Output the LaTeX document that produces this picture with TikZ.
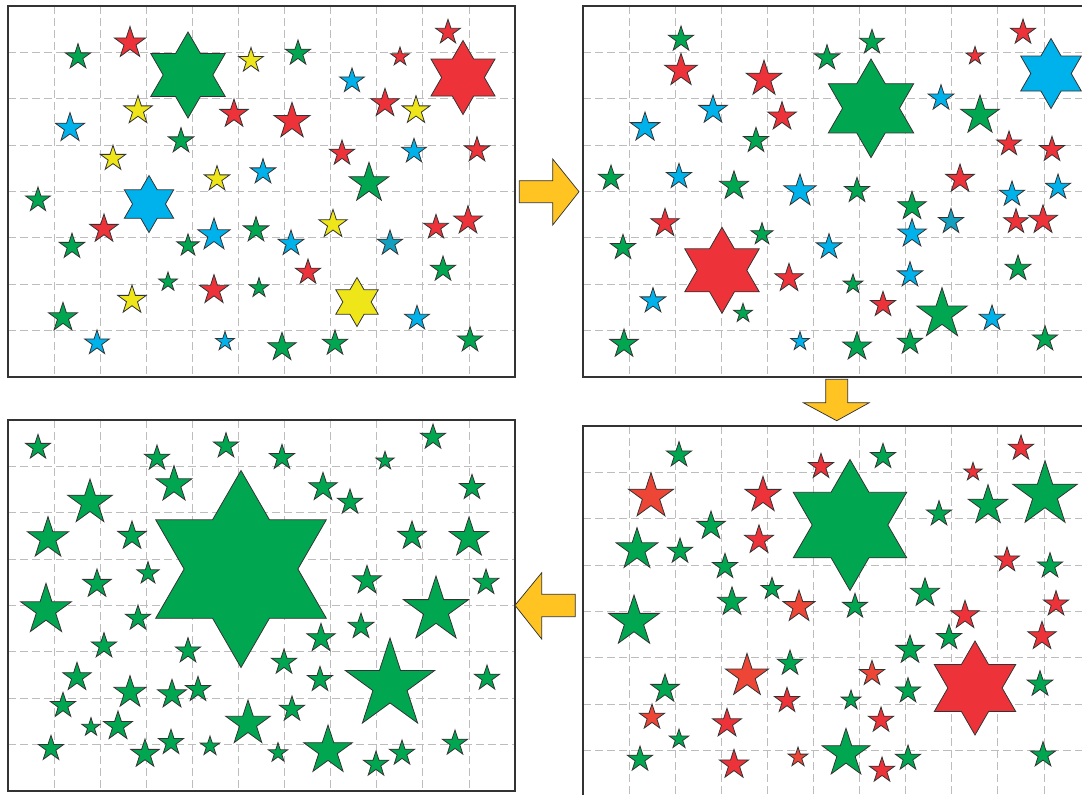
\documentclass[tikz,border=0pt]{standalone}
\usetikzlibrary{calc}
\definecolor{sg}{HTML}{00A650}
\definecolor{sr}{HTML}{EE3239}
\definecolor{so}{HTML}{EE4636}
\definecolor{sb}{HTML}{00B2EC}
\definecolor{sy}{HTML}{EEE618}
\definecolor{st}{HTML}{139FC0}
\definecolor{ay}{HTML}{FFC421}
\definecolor{lineg}{HTML}{333333}
\definecolor{gridg}{HTML}{BDBDBD}
\tikzset{
  stl/.style={draw=lineg,line width=0.6pt,line join=miter},
  gridline/.style={draw=gridg,line width=0.75pt,dash pattern=on 6pt off 3pt},
  frameline/.style={draw=lineg,line width=1.4pt},
  arrowshape/.style={fill=ay,draw=lineg,line width=0.55pt}
}
\newcommand{\fst}[4]{\draw[stl,fill=#1,shift={(#2,#3)}] (-90:#4) -- (-54:{0.382*#4}) -- (-18:#4) -- (18:{0.382*#4}) -- (54:#4) -- (90:{0.382*#4}) -- (126:#4) -- (162:{0.382*#4}) -- (198:#4) -- (234:{0.382*#4}) -- cycle;}
\newcommand{\hst}[4]{\draw[stl,fill=#1,shift={(#2,#3)}] (-90:#4) -- (-60:{0.57735*#4}) -- (-30:#4) -- (0:{0.57735*#4}) -- (30:#4) -- (60:{0.57735*#4}) -- (90:#4) -- (120:{0.57735*#4}) -- (150:#4) -- (180:{0.57735*#4}) -- (210:#4) -- (240:{0.57735*#4}) -- cycle;}
\newcommand{\pgrid}[2]{%
  \foreach \k in {1,...,10} {\draw[gridline] ({#1+46.1*\k},#2) -- ({#1+46.1*\k},{#2+371});}
  \foreach \k in {1,...,7} {\draw[gridline] (#1,{#2+46.375*\k}) -- ({#1+507},{#2+46.375*\k});}
}
\newcommand{\pframe}[2]{\draw[frameline] (#1,#2) rectangle ({#1+507},{#2+371});}
\begin{document}
\begin{tikzpicture}[x=0.75pt,y=-0.75pt]
\useasboundingbox (0,0) rectangle (1082,794);
\clip (0,0) rectangle (1082,794);
\fill[white] (0,0) rectangle (1082,794);
% ---------- panel 1 ----------
\pgrid{8}{6}
\fst{sg}{78}{57}{13.3}
\fst{sr}{130}{43}{16.5}
\hst{sg}{188}{75}{43}
\fst{sy}{251}{60.5}{13}
\fst{sy}{138}{110.5}{15}
\fst{sr}{234}{114}{15}
\fst{sb}{70}{128}{15.4}
\fst{sg}{181}{141}{13.3}
\fst{sy}{113}{158.5}{13.3}
\fst{sy}{217}{179}{13.3}
\fst{sb}{263}{172}{13.3}
\hst{sb}{149}{204}{28.5}
\fst{sg}{38}{200}{13}
\fst{sr}{104}{229}{15}
\fst{sg}{72}{246.5}{13.3}
\fst{sg}{188}{245.5}{11.7}
\fst{sb}{214}{235}{17}
\fst{sg}{256}{230}{13.3}
\fst{sg}{168}{282}{10}
\fst{sr}{214}{290}{15.4}
\fst{sg}{259}{288}{10.3}
\fst{sy}{132}{300}{15}
\fst{sg}{63}{317.5}{15.2}
\fst{sb}{97}{343}{13}
\fst{sb}{225}{341.5}{10}
\fst{sg}{298}{53.3}{13.3}
\fst{sr}{448}{32.3}{13}
\fst{sr}{400}{56.8}{9.8}
\hst{sr}{463}{77.5}{37}
\fst{sb}{352}{81}{13}
\fst{sr}{385}{103.3}{15}
\fst{sy}{416}{110.4}{14.7}
\fst{sr}{292}{121.3}{19}
\fst{sr}{342}{153.3}{13.3}
\fst{sb}{414}{151.3}{13}
\fst{sr}{477}{150}{13.3}
\fst{sg}{369}{183.2}{20.9}
\fst{sy}{333}{224.3}{15}
\fst{sb}{291}{243.5}{13.5}
\fst{st}{390}{243.3}{13.3}
\fst{sr}{436}{227.3}{13}
\fst{sr}{468}{220.7}{15}
\fst{sr}{308}{272.3}{13.3}
\fst{sg}{443}{269.3}{13.3}
\hst{sy}{357}{302}{24.5}
\fst{sb}{417}{318.3}{13}
\fst{sg}{282}{347.3}{15}
\fst{sg}{335}{343.3}{13.3}
\fst{sg}{470}{340}{13.3}
\pframe{8}{6}
% ---------- panel 2 ----------
\pgrid{583}{6}
\fst{sg}{681}{39.3}{13.3}
\fst{sr}{681}{70.5}{17.2}
\fst{sr}{764}{79}{18.8}
\fst{sb}{713}{110}{15}
\fst{sr}{782}{116.7}{15}
\fst{sb}{645}{127.4}{15.4}
\fst{sg}{756}{140.6}{13.3}
\fst{sg}{611}{178.3}{13.3}
\fst{sb}{679}{176.6}{13.3}
\fst{sg}{734}{186}{15.2}
\fst{sb}{800}{191}{17}
\fst{sr}{665}{223.3}{15}
\fst{sg}{762}{234.3}{11.6}
\fst{sg}{623}{247.6}{13.3}
\hst{sr}{722}{270.3}{43}
\fst{sr}{789}{278.3}{15}
\fst{sb}{653}{301}{13.3}
\fst{sg}{743}{313.3}{10}
\fst{sg}{624}{344}{15}
\fst{sb}{800}{341.5}{9.8}
\fst{sb}{829}{247}{13.3}
\fst{sg}{827}{58}{13.3}
\fst{sg}{872}{42.3}{13}
\hst{sg}{871}{108.3}{49.3}
\fst{sr}{975}{56}{9.5}
\fst{sr}{1023}{32.3}{13.3}
\hst{sb}{1051}{73.5}{35}
\fst{sb}{941}{98.2}{13.5}
\fst{sg}{980}{115.5}{20.5}
\fst{sr}{1009}{144}{13}
\fst{sr}{1052}{149.6}{13.3}
\fst{sr}{960}{179}{15}
\fst{sg}{857}{190.6}{13.3}
\fst{sb}{1012}{194.3}{13.3}
\fst{sb}{1058}{187.3}{13.3}
\fst{sg}{912}{206.3}{15}
\fst{sb}{912}{233.7}{15}
\fst{st}{951}{221.6}{13.3}
\fst{sr}{1016}{221.7}{13}
\fst{sr}{1043}{220}{15.2}
\fst{sg}{1018}{268.5}{13.5}
\fst{sb}{910}{275}{13.3}
\fst{sg}{853}{284.3}{10.3}
\fst{sr}{883}{304.6}{13.3}
\fst{sg}{942}{314.2}{26.5}
\fst{sb}{992}{318.5}{13.5}
\fst{sg}{857}{346.7}{15}
\fst{sg}{910}{342.3}{13.3}
\fst{sg}{1045}{339}{13.3}
\pframe{583}{6}
% ---------- panel 3 ----------
\pgrid{583}{426}
\fst{sg}{679}{455}{13.3}
\fst{so}{651}{496.5}{23.8}
\fst{sr}{763}{495.2}{18.9}
\fst{sr}{821}{466.6}{13.3}
\fst{sg}{711}{526}{15}
\fst{sg}{637}{549.6}{21.9}
\fst{sg}{680}{551.3}{13.3}
\fst{sr}{759}{540}{15.2}
\fst{sg}{725}{566.6}{13.3}
\fst{sg}{772}{589}{11.6}
\fst{sg}{732}{602}{15.2}
\fst{so}{799}{606.8}{16.8}
\fst{sg}{634}{621.6}{26.6}
\fst{so}{747}{676}{22.6}
\fst{sg}{790}{663.3}{13.3}
\fst{sg}{665}{689}{15}
\fst{sr}{787}{700.6}{13.3}
\fst{so}{652}{717.3}{13.3}
\fst{sr}{727}{723.5}{15.2}
\fst{sg}{679}{739.2}{10.2}
\fst{sg}{640}{759.3}{13.3}
\fst{sr}{734}{764.7}{15.4}
\fst{so}{798}{757.3}{10.3}
\fst{sg}{846}{753.5}{25.2}
\hst{sg}{850}{525}{65.5}
\fst{sg}{883}{456.6}{13.3}
\fst{sr}{973}{472}{9.6}
\fst{sr}{1021}{448.3}{13.3}
\fst{sg}{939}{514}{13.3}
\fst{sg}{988}{505.6}{20.9}
\fst{sg}{1045}{494.7}{34}
\fst{sr}{1007}{560}{13.1}
\fst{sg}{1050}{566}{13.3}
\fst{sg}{925}{593}{15.2}
\fst{sg}{855}{606.4}{13.1}
\fst{sr}{1056}{604}{13.3}
\fst{sr}{965}{615.3}{15}
\fst{sg}{949}{637.6}{13.3}
\fst{sr}{1042}{636.3}{15}
\fst{sg}{910}{650}{15}
\hst{sr}{975}{688}{47}
\fst{so}{872}{673.6}{13.3}
\fst{sg}{908}{691}{13.3}
\fst{sg}{1040}{684.2}{13.5}
\fst{sg}{851}{700.3}{10.3}
\fst{sr}{881}{720.3}{13.3}
\fst{sg}{908}{758.3}{13.3}
\fst{sr}{882}{770.3}{13.3}
\fst{sg}{1043}{755}{13.3}
\pframe{583}{426}
% ---------- panel 4 ----------
\pgrid{8}{420}
\fst{sg}{38}{447.4}{13.1}
\fst{sg}{157}{458.3}{13.3}
\fst{sg}{226}{446}{13.3}
\fst{sg}{174}{484.6}{18.9}
\fst{sg}{90}{502.5}{23.5}
\fst{sg}{48}{538.4}{21.7}
\fst{sg}{132}{536}{15}
\hst{sg}{241}{569}{98.5}
\fst{sg}{148}{573.4}{11.7}
\fst{sg}{97}{584}{15}
\fst{sg}{46}{610}{26.6}
\fst{sg}{138}{618.3}{13.3}
\fst{sg}{104}{646}{13.3}
\fst{sg}{188}{651}{13.3}
\fst{sg}{77}{677.3}{15}
\fst{sg}{130}{692.5}{16.8}
\fst{sg}{172}{694.5}{15.2}
\fst{sg}{198}{689.6}{13.3}
\fst{sg}{63}{705.6}{13.3}
\fst{sg}{248}{723.5}{23.5}
\fst{sg}{91}{727.3}{9.6}
\fst{sg}{118}{726.2}{15.2}
\fst{sg}{51}{748.6}{13.3}
\fst{sg}{145}{754}{15}
\fst{sg}{171}{742.6}{13.3}
\fst{sg}{210}{746.2}{10.2}
\fst{sg}{282}{457.6}{13.3}
\fst{sg}{385}{461}{9.6}
\fst{sg}{433}{437.3}{13.3}
\fst{sg}{323}{487.3}{15}
\fst{sg}{350}{502.3}{13.3}
\fst{sg}{472}{487.6}{13.3}
\fst{sg}{412}{536}{15}
\fst{sg}{469}{537.9}{20.9}
\fst{sg}{367}{580.5}{15.2}
\fst{sg}{486}{582.5}{13.5}
\fst{sg}{436}{610.2}{34.2}
\fst{sg}{361}{626.5}{13.5}
\fst{sg}{321}{638.3}{15}
\fst{sg}{390}{685}{47}
\fst{sg}{284}{662.3}{13.3}
\fst{sg}{320}{679.6}{13.3}
\fst{sg}{487}{678.3}{13.3}
\fst{sg}{292}{709.3}{13.3}
\fst{sg}{328}{750.6}{25.6}
\fst{sg}{278}{752.9}{10.2}
\fst{sg}{376}{764.3}{13.3}
\fst{sg}{402}{753.3}{13.3}
\fst{sg}{455}{743.3}{13.3}
\pframe{8}{420}
% ---------- arrows ----------
\draw[arrowshape] (519.3,180.7) -- (552.7,180.7) -- (552.7,159) -- (579,191.7) -- (552.7,225) -- (552.7,202.7) -- (519.3,202.7) -- cycle;
\draw[arrowshape] (825.7,379.3) -- (847.7,379.3) -- (847.7,402.7) -- (869.3,402.7) -- (836.7,420.7) -- (803.3,402.7) -- (825.7,402.7) -- cycle;
\draw[arrowshape] (575.3,594.3) -- (541.7,594.3) -- (541.7,572.7) -- (515,605.3) -- (541.7,639) -- (541.7,616.7) -- (575.3,616.7) -- cycle;
\end{tikzpicture}
\end{document}
